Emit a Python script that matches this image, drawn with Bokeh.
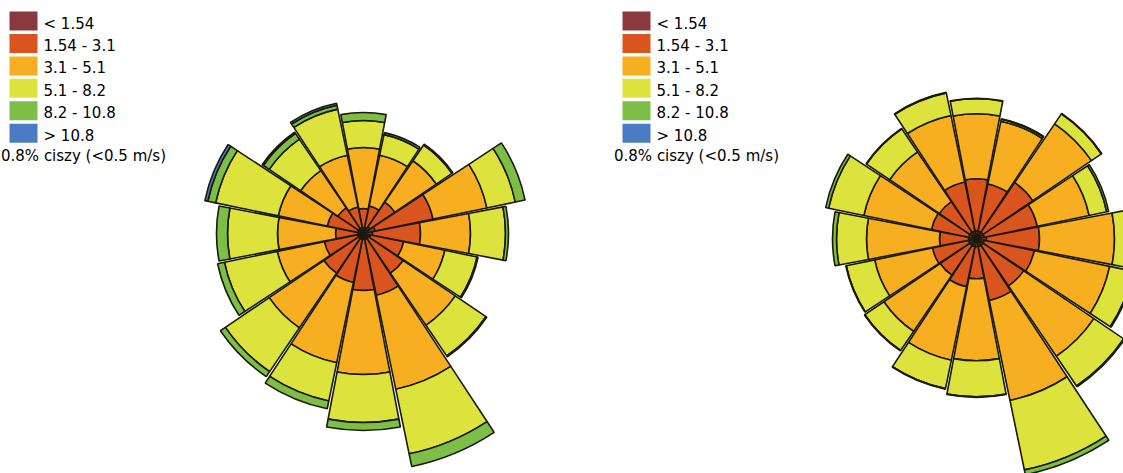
import numpy as np
from bokeh.plotting import figure
from bokeh.layouts import row
from bokeh.models import Range1d, ColumnDataSource
from bokeh.core.properties import value
from bokeh.embed import file_html
from bokeh.resources import INLINE

# 16 compass sectors, bearings clockwise from north
directions = ["N", "NNE", "NE", "ENE", "E", "ESE", "SE", "SSE",
              "S", "SSW", "SW", "WSW", "W", "WNW", "NW", "NNW"]
bearings = [0.0, 22.5, 45.0, 67.5, 90.0, 112.5, 135.0, 157.5,
            180.0, 202.5, 225.0, 247.5, 270.0, 292.5, 315.0, 337.5]

# wind speed classes (m/s) and their colours
speed_classes = ["< 1.54", "1.54 - 3.1", "3.1 - 5.1", "5.1 - 8.2", "8.2 - 10.8", "> 10.8"]
class_colors = ["#8a3a3c", "#d9541f", "#f7ae20", "#dce33c", "#7dbf46", "#4a7cc4"]
calm_note = "0.8% ciszy (<0.5 m/s)"

# station A: frequency (%) of each speed class per direction
a_lt154 = [0.24, 0.24, 0.32, 0.48, 0.36, 0.28, 0.24, 0.24, 0.24, 0.24, 0.24, 0.24, 0.24, 0.24, 0.24, 0.24]
a_154_31 = [0.76, 0.88, 1.20, 2.36, 1.92, 1.36, 1.68, 2.28, 2.04, 1.76, 1.68, 1.36, 0.88, 1.24, 1.00, 0.84]
a_31_51 = [2.44, 2.08, 2.00, 2.20, 2.00, 1.68, 2.52, 3.84, 3.36, 3.28, 2.64, 1.92, 2.32, 2.00, 1.80, 2.12]
a_51_82 = [1.08, 0.84, 0.76, 1.16, 1.40, 1.32, 1.48, 2.64, 1.92, 1.56, 2.12, 2.16, 2.00, 2.56, 1.52, 1.88]
a_82_108 = [0.32, 0.08, 0.04, 0.40, 0.12, 0.04, 0.04, 0.52, 0.32, 0.32, 0.24, 0.28, 0.44, 0.32, 0.28, 0.16]
a_gt108 = [0.00, 0.00, 0.00, 0.00, 0.00, 0.00, 0.00, 0.00, 0.00, 0.00, 0.00, 0.00, 0.00, 0.12, 0.06, 0.08]

# station B: frequency (%) of each speed class per direction
b_lt154 = [0.32, 0.32, 0.32, 0.32, 0.40, 0.32, 0.32, 0.32, 0.32, 0.32, 0.32, 0.32, 0.32, 0.32, 0.32, 0.32]
b_154_31 = [2.08, 1.92, 2.40, 2.16, 2.12, 2.04, 1.96, 2.20, 1.28, 1.64, 1.44, 1.48, 1.16, 1.52, 1.48, 2.00]
b_31_51 = [2.60, 2.56, 2.84, 2.12, 3.00, 3.08, 3.40, 4.08, 3.28, 3.00, 2.72, 2.36, 2.92, 2.76, 2.40, 2.72]
b_51_82 = [0.60, 0.08, 0.48, 0.72, 1.08, 0.96, 1.44, 2.84, 1.44, 1.16, 0.92, 1.16, 1.20, 1.44, 1.12, 0.92]
b_82_108 = [0.02, 0.02, 0.02, 0.08, 0.04, 0.04, 0.04, 0.20, 0.02, 0.02, 0.02, 0.02, 0.16, 0.12, 0.02, 0.02]
b_gt108 = [0.00, 0.00, 0.00, 0.00, 0.00, 0.00, 0.00, 0.00, 0.00, 0.00, 0.00, 0.00, 0.00, 0.00, 0.00, 0.00]

station_a = [a_lt154, a_154_31, a_31_51, a_51_82, a_82_108, a_gt108]
station_b = [b_lt154, b_154_31, b_31_51, b_51_82, b_82_108, b_gt108]

H = 473
PX_PER_PCT = 25.0       # screen pixels per 1 % of frequency
LEGEND_W = 190
EDGE = "#1a1a0c"
FONT = value("DejaVu Sans")


def blank(width, xr, yr):
    p = figure(width=width, height=H, x_range=xr, y_range=yr,
               output_backend="svg", toolbar_location=None, min_border=0)
    p.axis.visible = False
    p.grid.visible = False
    p.outline_line_color = None
    p.background_fill_color = "white"
    p.border_fill_color = "white"
    return p


def rose(classes, width, cx, cy):
    # cx, cy: pixel position of the rose centre inside its panel
    xr = Range1d(-cx / PX_PER_PCT, (width - cx) / PX_PER_PCT)
    yr = Range1d(-(H - cy) / PX_PER_PCT, cy / PX_PER_PCT)
    p = blank(width, xr, yr)
    mid = np.deg2rad(90.0 - np.asarray(bearings))
    half = np.deg2rad(10.8)
    inner = np.zeros(len(bearings))
    for vals, color in zip(classes, class_colors):
        vals = np.asarray(vals, dtype=float)
        outer = inner + vals
        keep = vals > 0
        if keep.any():
            src = ColumnDataSource(dict(
                x=np.zeros(keep.sum()), y=np.zeros(keep.sum()),
                r0=inner[keep], r1=outer[keep],
                a0=(mid - half)[keep], a1=(mid + half)[keep],
                dir=np.asarray(directions)[keep]))
            p.annular_wedge(x="x", y="y", inner_radius="r0", outer_radius="r1",
                            start_angle="a0", end_angle="a1", source=src,
                            fill_color=color, line_color=EDGE, line_width=1.6)
        inner = outer
    return p


def legend_panel():
    p = blank(LEGEND_W, Range1d(0, LEGEND_W), Range1d(H, 0))
    idx = np.arange(len(speed_classes))
    top = 11.0 + idx * 22.45
    p.quad(left=9, right=37, top=top, bottom=top + 19, fill_color=class_colors,
           line_color=None)
    p.text(x=43, y=top + 12, text=speed_classes, text_baseline="middle",
           text_align="left", text_font=FONT, text_font_size="15px", text_color="#000000")
    p.text(x=[0.5], y=[155], text=[calm_note], text_baseline="middle",
           text_align="left", text_font=FONT, text_font_size="15px", text_color="#000000")
    return p


left_rose = rose(station_a, 423, 173, 233)
right_rose = rose(station_b, 1123 - 2 * LEGEND_W - 423, 173, 238.3)

layout = row(legend_panel(), left_rose, legend_panel(), right_rose, spacing=0)

open("out.html", "w").write(file_html(layout, INLINE))
